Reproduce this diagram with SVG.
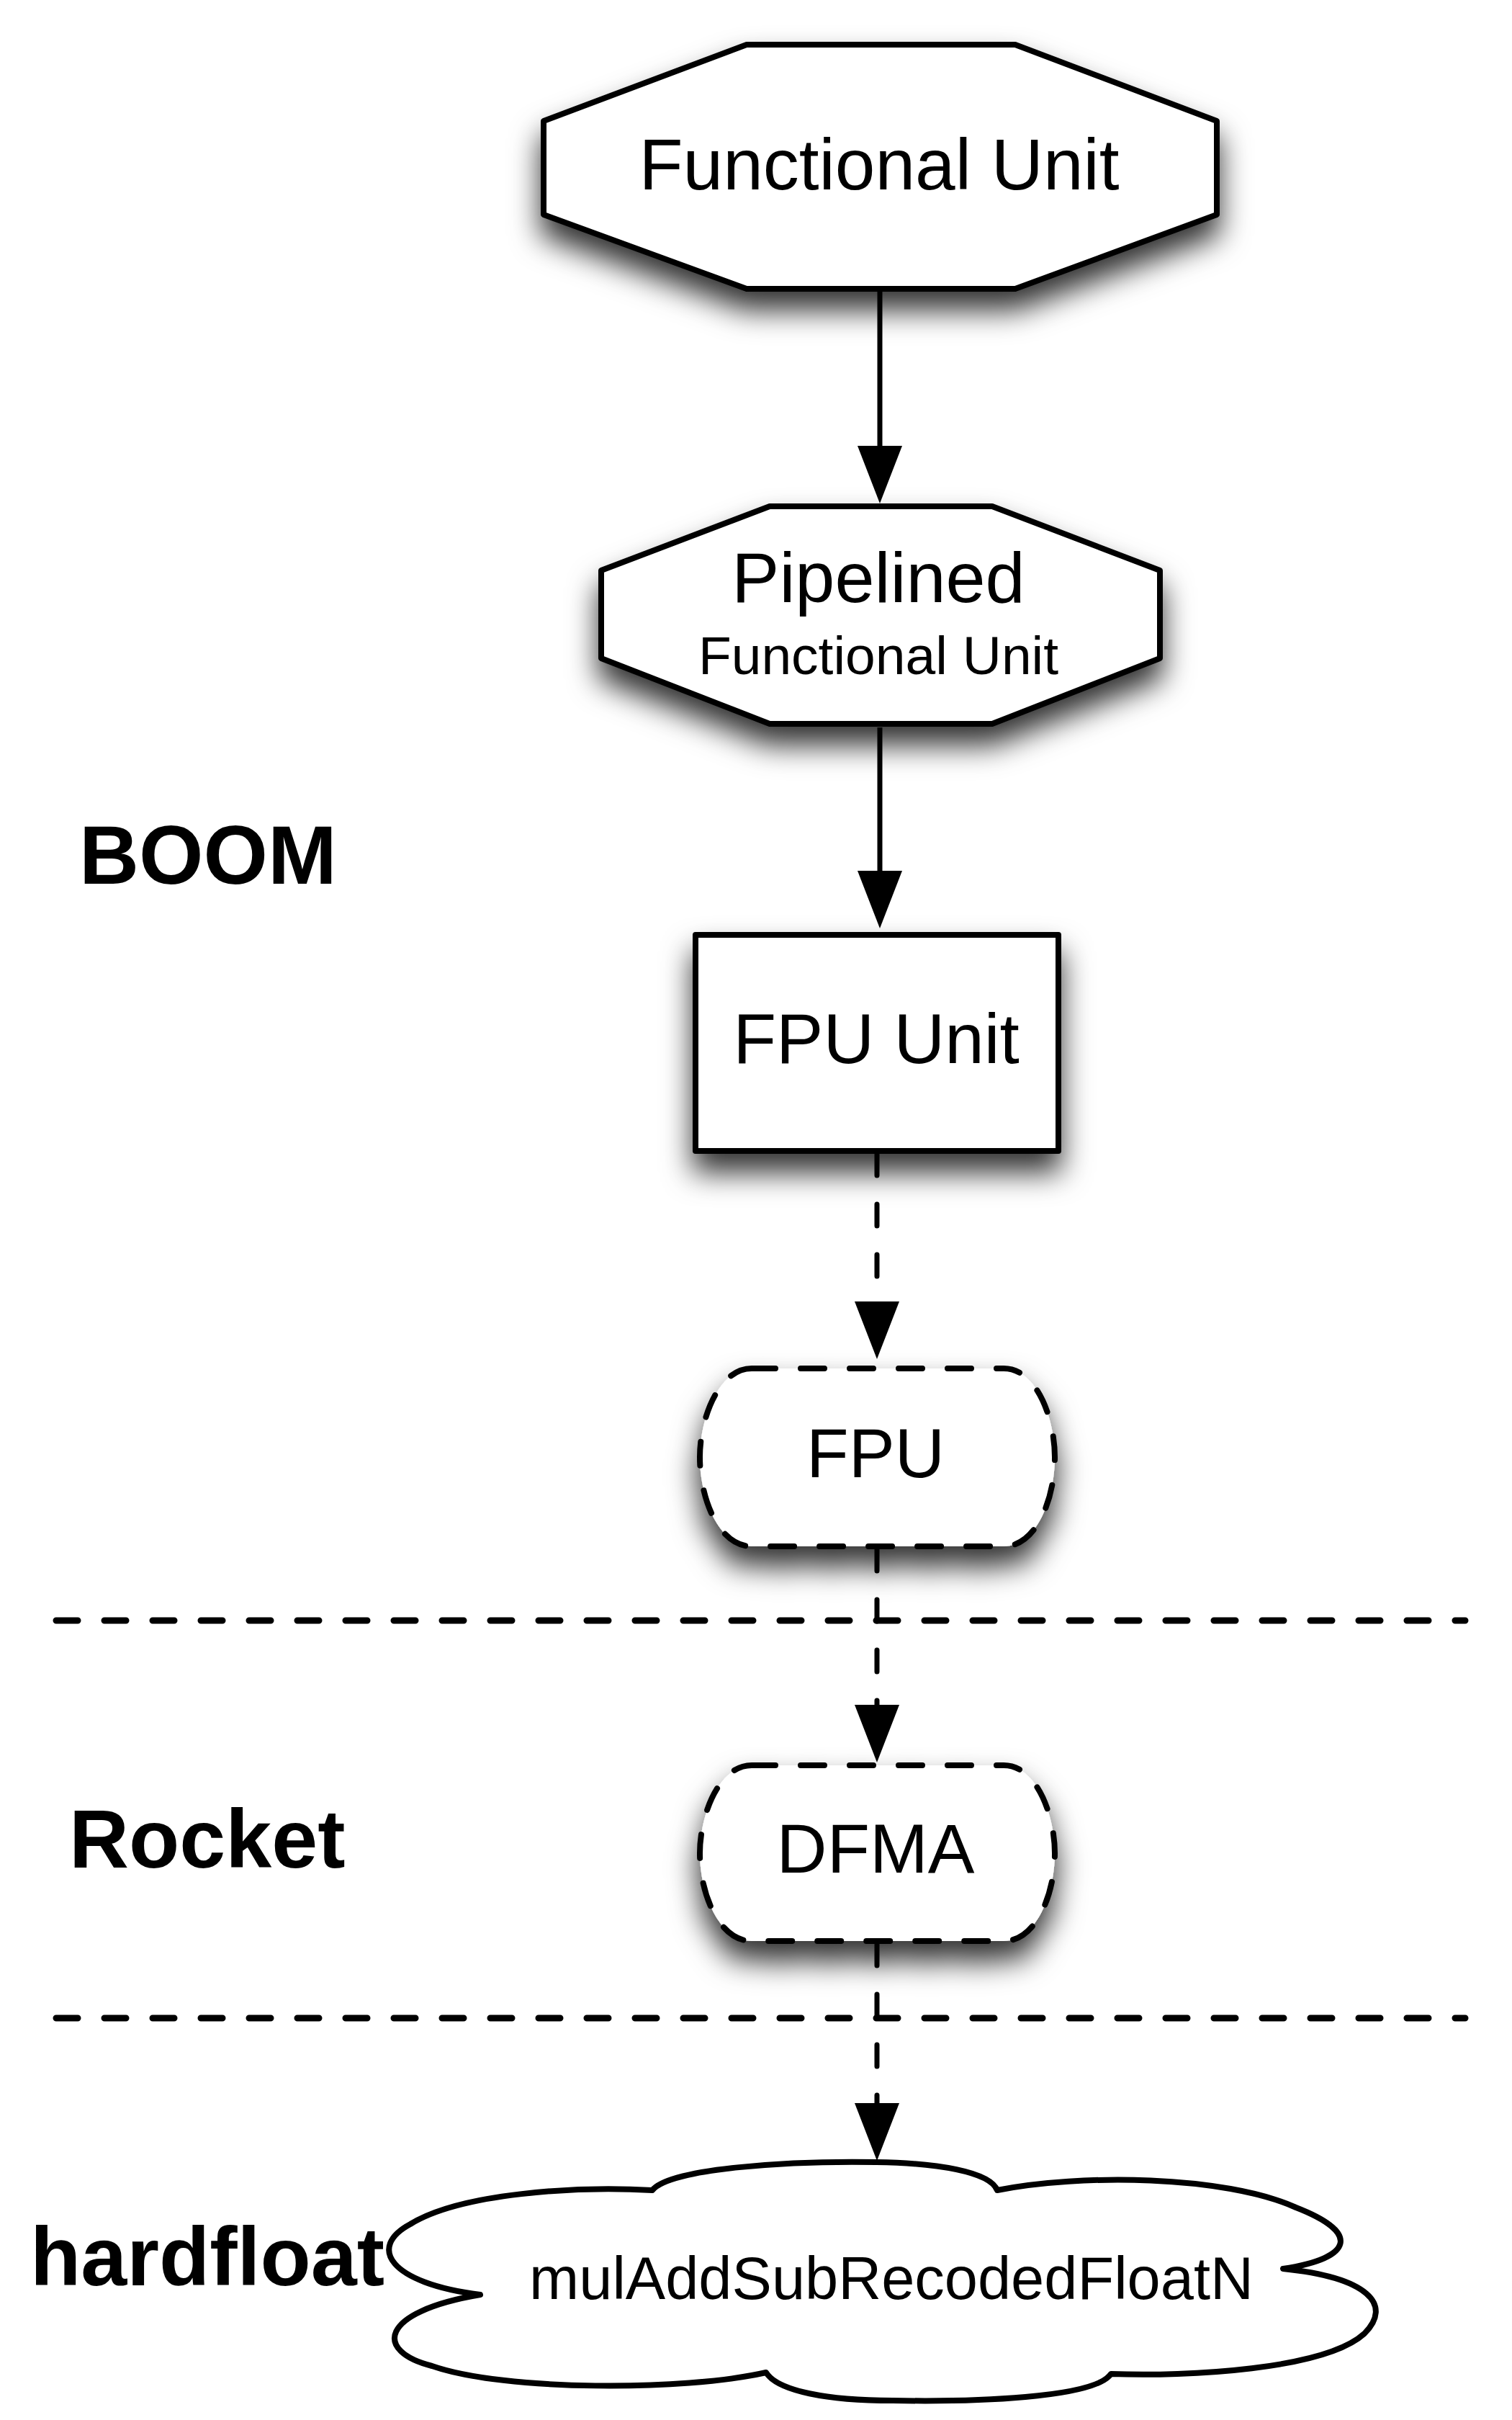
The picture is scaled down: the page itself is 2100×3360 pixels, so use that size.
<svg xmlns="http://www.w3.org/2000/svg" width="2100" height="3360" viewBox="0 0 2100 3360">
<style>
.node{fill:#fff;stroke:#000;stroke-width:8;stroke-linejoin:round}
.dnode{fill:#fff;stroke:#000;stroke-width:8;stroke-dasharray:33 35;stroke-linecap:round}
.conn{fill:none;stroke:#000;stroke-width:7}
.dconn{fill:none;stroke:#000;stroke-width:7;stroke-dasharray:30 40;stroke-linecap:round}
.sep{fill:none;stroke:#000;stroke-width:9;stroke-dasharray:30 37;stroke-linecap:round}
.t{font-family:"Liberation Sans",Arial,Helvetica,sans-serif;fill:#000;text-anchor:middle}
.lbl{font-family:"Liberation Sans",Arial,Helvetica,sans-serif;font-weight:bold;font-size:115px;fill:#000}
</style>
<defs>
<filter id="sh" x="-25%" y="-35%" width="150%" height="190%">
<feDropShadow dx="0" dy="26" stdDeviation="20" flood-color="#000" flood-opacity="0.8"/>
</filter>
<marker id="ah" markerUnits="userSpaceOnUse" markerWidth="82" markerHeight="64" viewBox="0 0 82 64" refX="10" refY="32" orient="auto">
<path d="M0,1 L80,32 L0,63 Z" fill="#000"/>
</marker>
</defs>
<rect width="2100" height="3360" fill="#fff"/>

<g id="separators">
<line class="sep" x1="78" y1="2250" x2="2035" y2="2250"/>
<line class="sep" x1="78" y1="2802" x2="2035" y2="2802"/>
</g>

<g id="labels">
<text class="lbl" x="110" y="1227">BOOM</text>
<text class="lbl" x="96" y="2593">Rocket</text>
<text class="lbl" x="42" y="3173">hardfloat</text>
</g>

<g id="connectors">
<line class="conn" x1="1222" y1="405" x2="1222" y2="629" marker-end="url(#ah)"/>
<line class="conn" x1="1222" y1="1010" x2="1222" y2="1219" marker-end="url(#ah)"/>
<line class="dconn" x1="1218" y1="1602" x2="1218" y2="1817" marker-end="url(#ah)"/>
<line class="dconn" x1="1218" y1="2151" x2="1218" y2="2377" marker-end="url(#ah)"/>
<line class="dconn" x1="1218" y1="2699" x2="1218" y2="2930" marker-end="url(#ah)"/>
</g>

<g id="functional-unit">
<polygon class="node" filter="url(#sh)" points="1037,62 1410,62 1690,168 1690,298 1410,401 1037,401 755,298 755,168"/>
<text class="t" x="1221" y="263" font-size="100">Functional Unit</text>
</g>

<g id="pipelined-functional-unit">
<polygon class="node" filter="url(#sh)" points="1069,703 1378,703 1611,792 1611,914 1378,1005 1069,1005 835,914 835,792"/>
<text class="t" x="1220" y="836" font-size="99">Pipelined</text>
<text class="t" x="1220" y="936" font-size="75">Functional Unit</text>
</g>

<g id="fpu-unit">
<rect class="node" filter="url(#sh)" x="966" y="1298" width="504" height="300"/>
<text class="t" x="1217" y="1476" font-size="98">FPU Unit</text>
</g>

<g id="fpu">
<path class="dnode" filter="url(#sh)" d="M1044,1900 H1394 C1440,1900 1465,1970 1465,2023 C1465,2080 1440,2147 1394,2147 H1044 C998,2147 972,2080 972,2023 C972,1970 998,1900 1044,1900 Z"/>
<text class="t" x="1216" y="2051" font-size="96">FPU</text>
</g>

<g id="dfma">
<path class="dnode" filter="url(#sh)" d="M1044,2451 H1394 C1440,2451 1465,2521 1465,2573 C1465,2628 1440,2695 1394,2695 H1044 C998,2695 972,2628 972,2573 C972,2521 998,2451 1044,2451 Z"/>
<text class="t" x="1216" y="2600" font-size="97">DFMA</text>
</g>

<g id="mulAddSubRecodedFloatN">
<path class="node" d="M906,3041 C930,3010 1100,3000 1217,3002 C1300,3003 1375,3015 1385,3041 C1500,3018 1700,3020 1800,3065 C1890,3100 1880,3135 1782,3150 C1900,3162 1935,3200 1895,3240 C1840,3290 1650,3300 1543,3296 C1520,3330 1350,3335 1240,3333 C1150,3333 1080,3320 1064,3294 C950,3320 700,3320 600,3285 C520,3265 525,3210 667,3186 C540,3170 510,3120 570,3088 C640,3045 800,3035 906,3041 Z"/>
<text class="t" x="1238" y="3192" font-size="83">mulAddSubRecodedFloatN</text>
</g>
</svg>
